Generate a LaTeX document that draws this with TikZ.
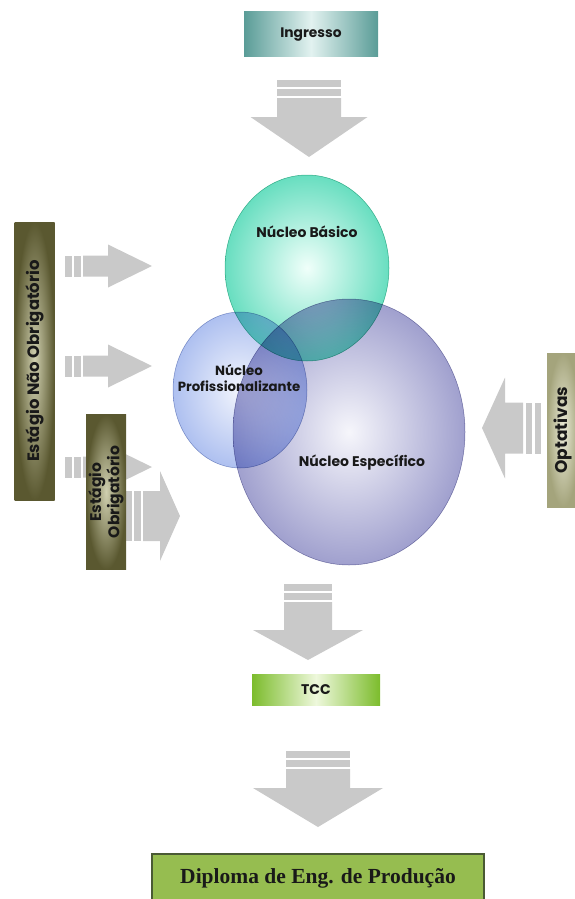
\documentclass[tikz,border=0pt]{standalone}
\usepackage{fontspec}
\setmainfont{Poppins}
\newfontfamily\diplomafont{Liberation Serif}
\usetikzlibrary{shapes.geometric}
\definecolor{agray}{HTML}{C9C9C9}
\definecolor{tealedge}{HTML}{5A9C97}
\definecolor{tealmid}{HTML}{E2F2F0}
\definecolor{oliveout}{HTML}{5A5830}
\definecolor{olivein}{HTML}{D0D0B0}
\definecolor{optout}{HTML}{A4A47C}
\definecolor{optin}{HTML}{ECECD8}
\definecolor{greenedge}{HTML}{7CBC2C}
\definecolor{greenmid}{HTML}{EEF8DC}
\definecolor{diplfill}{HTML}{96BD50}
\definecolor{diplline}{HTML}{4A5A34}
\definecolor{basout}{HTML}{68DEC0}
\definecolor{basin}{HTML}{F0FFFA}
\definecolor{espout}{HTML}{A0A0CE}
\definecolor{espin}{HTML}{F6F6FB}
\definecolor{proout}{HTML}{AEC0F0}
\definecolor{proin}{HTML}{F2F5FD}
\tikzset{
  pics/barrow/.style n args={4}{code={
    \fill[agray] (0,0) -- (-#1,#2) -- (-#1,#4) -- ({-#1-#3},#4) -- ({-#1-#3},-#4)
      -- (-#1,-#4) -- (-#1,-#2) -- cycle;
    \fill[agray] ({-#1-#3-2.5},-#4) rectangle ({-#1-#3-9},#4);
    \fill[agray] ({-#1-#3-11.5},-#4) rectangle ({-#1-#3-18},#4);
  }},
  lbl/.style={font=\bfseries\fontsize{14}{15}\selectfont, text=black!90, align=center, inner sep=0pt},
  tealbox/.style={lbl, left color=tealedge, right color=tealedge, middle color=tealmid,
    minimum width=134pt, minimum height=45pt},
  olivebox/.style={lbl, inner color=olivein, outer color=oliveout, minimum height=40pt},
  optbox/.style={lbl, inner color=optin, outer color=optout},
  greenbox/.style={lbl, left color=greenedge, right color=greenedge, middle color=greenmid,
    minimum width=128pt, minimum height=31pt},
  diplbox/.style={fill=diplfill, draw=diplline, line width=1.6pt, inner sep=0pt,
    font=\diplomafont\bfseries\fontsize{21.5}{23}\selectfont, text=black!90},
  venn/.style={ellipse, inner sep=0pt, line width=0.5pt},
}
\begin{document}
\begin{tikzpicture}[x=1pt,y=-1pt]
\useasboundingbox (0,0) rectangle (574,899);
% block arrows
\pic[rotate=-90] (a1) at (309,157) {barrow={40}{58.5}{19}{32}};
\pic (a2) at (152,266) {barrow={44}{21.5}{25}{10.5}};
\pic (a3) at (152,366) {barrow={44}{21.5}{25}{10.5}};
\pic (a4) at (152,467) {barrow={44}{21.5}{25}{10.5}};
\pic (a5) at (180,516) {barrow={20}{45}{17}{25}};
\pic[rotate=180] (a6) at (482,428) {barrow={23}{50.5}{18}{25.5}};
\pic[rotate=-90] (a7) at (308,660) {barrow={30}{55}{28}{24}};
\pic[rotate=-90] (a8) at (318,827) {barrow={39}{65}{19}{32}};
% boxes
\node[tealbox, font=\bfseries\fontsize{13.8}{15}\selectfont] (ing) at (311,34.5) {Ingresso};
\node[olivebox, rotate=90, minimum width=278pt, font=\bfseries\fontsize{16.5}{18}\selectfont] (eno) at (34.5,361) {Estágio Não Obrigatório};
\node[olivebox, rotate=90, minimum width=155pt, font=\bfseries\fontsize{15.5}{17}\selectfont] (eo) at (106,492) {Estágio\\Obrigatório};
\node[optbox, rotate=90, minimum width=154pt, minimum height=32pt, font=\bfseries\fontsize{17}{18}\selectfont] (opt) at (563,430) {Optativas};
\node[greenbox] (tcc) at (316,689.5) {TCC};
\node[diplbox, anchor=north, minimum width=332pt, minimum height=50pt] (dip) at (318,853) {Diploma de Eng. de Produção};
% venn circles
\begin{scope}[blend mode=multiply]
\node[venn, inner color=basin, outer color=basout, draw=basout!85!black,
  minimum width=164pt, minimum height=186pt] (bas) at (307,268) {};
\node[venn, inner color=espin, outer color=espout, draw=espout!90!black,
  minimum width=232pt, minimum height=266pt] (esp) at (349,432) {};
\node[venn, inner color=proin, outer color=proout, draw=proout!85!black,
  minimum width=134pt, minimum height=156pt] (pro) at (240,390) {};
\end{scope}
\node[lbl] (tbas) at (307,232) {Núcleo Básico};
\node[lbl, font=\bfseries\fontsize{13.3}{16}\selectfont] (tpro) at (239,378) {Núcleo\\Profissionalizante};
\node[lbl] (tesp) at (362,463) {Núcleo Específico};
\end{tikzpicture}
\end{document}
